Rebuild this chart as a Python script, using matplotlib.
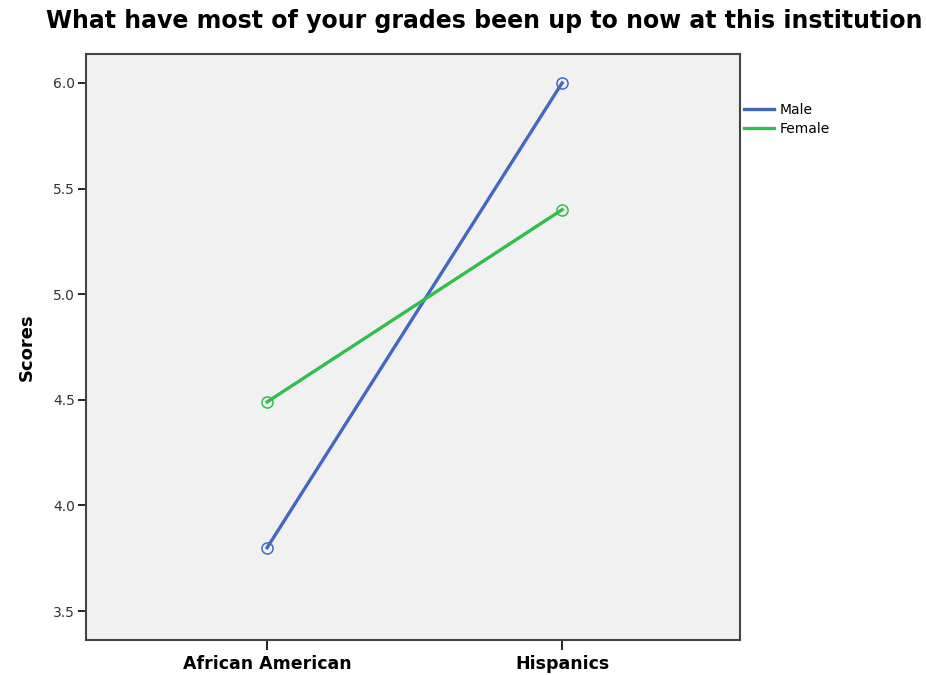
import matplotlib.pyplot as plt

groups = ['African American', 'Hispanics']
male = [3.80, 6.00]
female = [4.49, 5.40]
yticks = [3.5, 4.0, 4.5, 5.0, 5.5, 6.0]

fig = plt.figure(figsize=(9.26, 6.75), dpi=100)
W, H = 926, 675
# axes box in pixels: left 86, right 740, top 54, bottom 640
ax = fig.add_axes([86 / W, 1 - 640 / H, (740 - 86) / W, (640 - 54) / H])
ax.set_facecolor('#f1f1f1')

x = list(range(len(groups)))
ax.plot(x, male, color='#4468c0', lw=2.4, marker='o', ms=8, mfc='none', mew=1.1, label='Male')
ax.plot(x, female, color='#30be4c', lw=2.4, marker='o', ms=8, mfc='none', mew=1.1, label='Female')

ax.set_xlim(-0.614, 1.603)
ax.set_ylim(3.363, 6.137)
ax.set_xticks(x)
ax.set_xticklabels(groups, fontsize=12.5, fontweight='bold')
ax.set_yticks(yticks)
ax.set_yticklabels([f'{v:.1f}' for v in yticks], fontsize=10, color='#333333')
ax.tick_params(axis='x', length=7, width=1.2, pad=4)
ax.tick_params(axis='y', length=6, width=1.2, pad=2)
for s in ax.spines.values():
    s.set_linewidth(1.5)
    s.set_color('#444444')
ax.set_ylabel('Scores', fontsize=13, fontweight='bold', labelpad=12)

fig.text(484 / W, 1 - 21 / H, 'What have most of your grades been up to now at this institution',
         ha='center', va='center', fontsize=17, fontweight='bold')

leg = ax.legend(loc='upper left', bbox_to_anchor=(1.006, 0.917), frameon=False, fontsize=10,
                handlelength=2.2, handletextpad=0.35, labelspacing=0.4, borderaxespad=0.0,
                borderpad=0.0)
for h in leg.legend_handles:
    h.set_marker('')

fig.savefig('out.png', dpi=100)
